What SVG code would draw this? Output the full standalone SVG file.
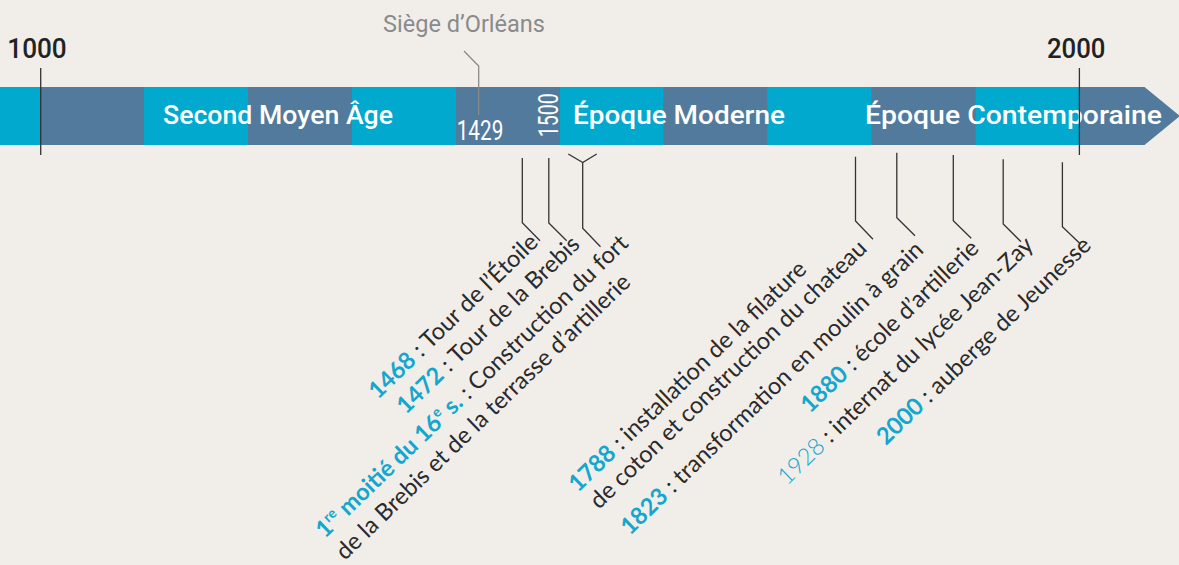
<svg xmlns="http://www.w3.org/2000/svg" width="1179" height="565" viewBox="0 0 1179 565">
<style>
.cy{fill:#00A9CD}
.dk{fill:#517A9C}
.bar{font-family:Roboto,"Liberation Sans",sans-serif;font-weight:500;font-size:26px;fill:#ffffff}
.yr{font-family:Roboto,"Liberation Sans",sans-serif;font-weight:500;font-size:27px;fill:#222222}
.thin{font-family:Roboto,"Liberation Sans",sans-serif;font-weight:400;font-size:27px;fill:#ffffff}
.lbl{font-family:Lato,"Open Sans",sans-serif;font-size:23.6px;fill:#2a2a2a}
.y{fill:#14A6CE;font-weight:bold}
.yl{fill:#14A6CE;font-weight:300}
.ld{fill:none;stroke:#333333;stroke-width:1.3}
.lg{fill:none;stroke:#8a8a8a;stroke-width:1.3}
</style>
<rect width="1179" height="565" fill="#F1EEEA"/>
<g id="timeline-bar">
<rect class="cy" x="0" y="87" width="1080" height="58"/>
<rect class="dk" x="40.7" y="87" width="103.3" height="58"/>
<rect class="dk" x="248" y="87" width="104" height="58"/>
<rect class="dk" x="456" y="87" width="104" height="58"/>
<rect class="dk" x="663.4" y="87" width="104" height="58"/>
<rect class="dk" x="871.5" y="87" width="104" height="58"/>
<polygon class="dk" points="1079.4,87 1144.5,87 1180,116 1144.5,145 1079.4,145"/>
</g>
<g id="period-labels">
<text class="bar" x="163" y="124" textLength="230" lengthAdjust="spacingAndGlyphs">Second Moyen Âge</text>
<text class="bar" x="573" y="124" textLength="212" lengthAdjust="spacingAndGlyphs">Époque Moderne</text>
<text class="bar" x="865" y="124" textLength="297" lengthAdjust="spacingAndGlyphs">Époque Contemporaine</text>
<text class="thin" x="456.7" y="140" textLength="46.6" lengthAdjust="spacingAndGlyphs">1429</text>
<text class="thin" transform="translate(558.3,137.3) rotate(-90)" x="0" y="0" textLength="44" lengthAdjust="spacingAndGlyphs">1500</text>
</g>
<g id="year-1000">
<text class="yr" x="7.3" y="58.3" textLength="59.4" lengthAdjust="spacingAndGlyphs">1000</text>
</g>
<g id="year-2000">
<text class="yr" x="1047" y="58.3" textLength="58.5" lengthAdjust="spacingAndGlyphs">2000</text>
</g>
<g id="siege-orleans">
<text x="383" y="32" textLength="162" lengthAdjust="spacingAndGlyphs" style="font-family:Roboto,'Liberation Sans',sans-serif;font-size:23px;fill:#8a8a8a">Siège d’Orléans</text>
</g>
<g id="connectors">
<line class="ld" x1="40.7" y1="68" x2="40.7" y2="155"/>
<line class="ld" x1="1079.4" y1="68" x2="1079.4" y2="155"/>
<polyline class="lg" points="464,51 478.7,66 478.7,115"/>
<polyline class="ld" points="522.3,158 522.3,222.7 540,240.7"/>
<polyline class="ld" points="548.8,158 548.8,223 566.7,240.7"/>
<polyline class="ld" points="568.3,154 582.7,162.5 596.7,154"/>
<polyline class="ld" points="582.7,162.5 582.7,228.3 600.5,246.7"/>
<polyline class="ld" points="855.5,156.7 855.5,221 873,239.3"/>
<polyline class="ld" points="896.8,152.7 896.8,217.7 915,235.7"/>
<polyline class="ld" points="953.3,155 953.3,220.7 971.2,238.3"/>
<polyline class="ld" points="1003.2,159.3 1003.2,224 1021,241.7"/>
<polyline class="ld" points="1062.4,162.3 1062.4,226.7 1080.7,244.3"/>
</g>
<g id="event-1468">
<text class="lbl" transform="translate(378,400) rotate(-44)"><tspan class="y">1468</tspan> : Tour de l’Étoile</text>
</g>
<g id="event-1472">
<text class="lbl" transform="translate(406,415) rotate(-44)"><tspan class="y">1472</tspan> : Tour de la Brebis</text>
</g>
<g id="event-16e">
<text class="lbl" transform="translate(325,539) rotate(-44)"><tspan class="y">1<tspan font-size="14" dy="-9">re</tspan><tspan dy="9"> moitié du 16</tspan><tspan font-size="14" dy="-9">e</tspan><tspan dy="9"> s.</tspan></tspan> : Construction du fort</text>
<text class="lbl" transform="translate(345,561) rotate(-44)">de la Brebis et de la terrasse d’artillerie</text>
</g>
<g id="event-1788">
<text class="lbl" transform="translate(578,493) rotate(-44)"><tspan class="y">1788</tspan> : installation de la filature</text>
<text class="lbl" transform="translate(599,510) rotate(-44)">de coton et construction du chateau</text>
</g>
<g id="event-1823">
<text class="lbl" transform="translate(630,536) rotate(-44)"><tspan class="y">1823</tspan> : transformation en moulin à grain</text>
</g>
<g id="event-1880">
<text class="lbl" transform="translate(810,414) rotate(-44)"><tspan class="y">1880</tspan> : école d’artillerie</text>
</g>
<g id="event-1928">
<text class="lbl" transform="translate(787,486) rotate(-44)"><tspan class="yl">1928</tspan> : internat du lycée Jean-Zay</text>
</g>
<g id="event-2000">
<text class="lbl" transform="translate(886,446) rotate(-44)"><tspan class="y">2000</tspan> : auberge de Jeunesse</text>
</g>
</svg>
